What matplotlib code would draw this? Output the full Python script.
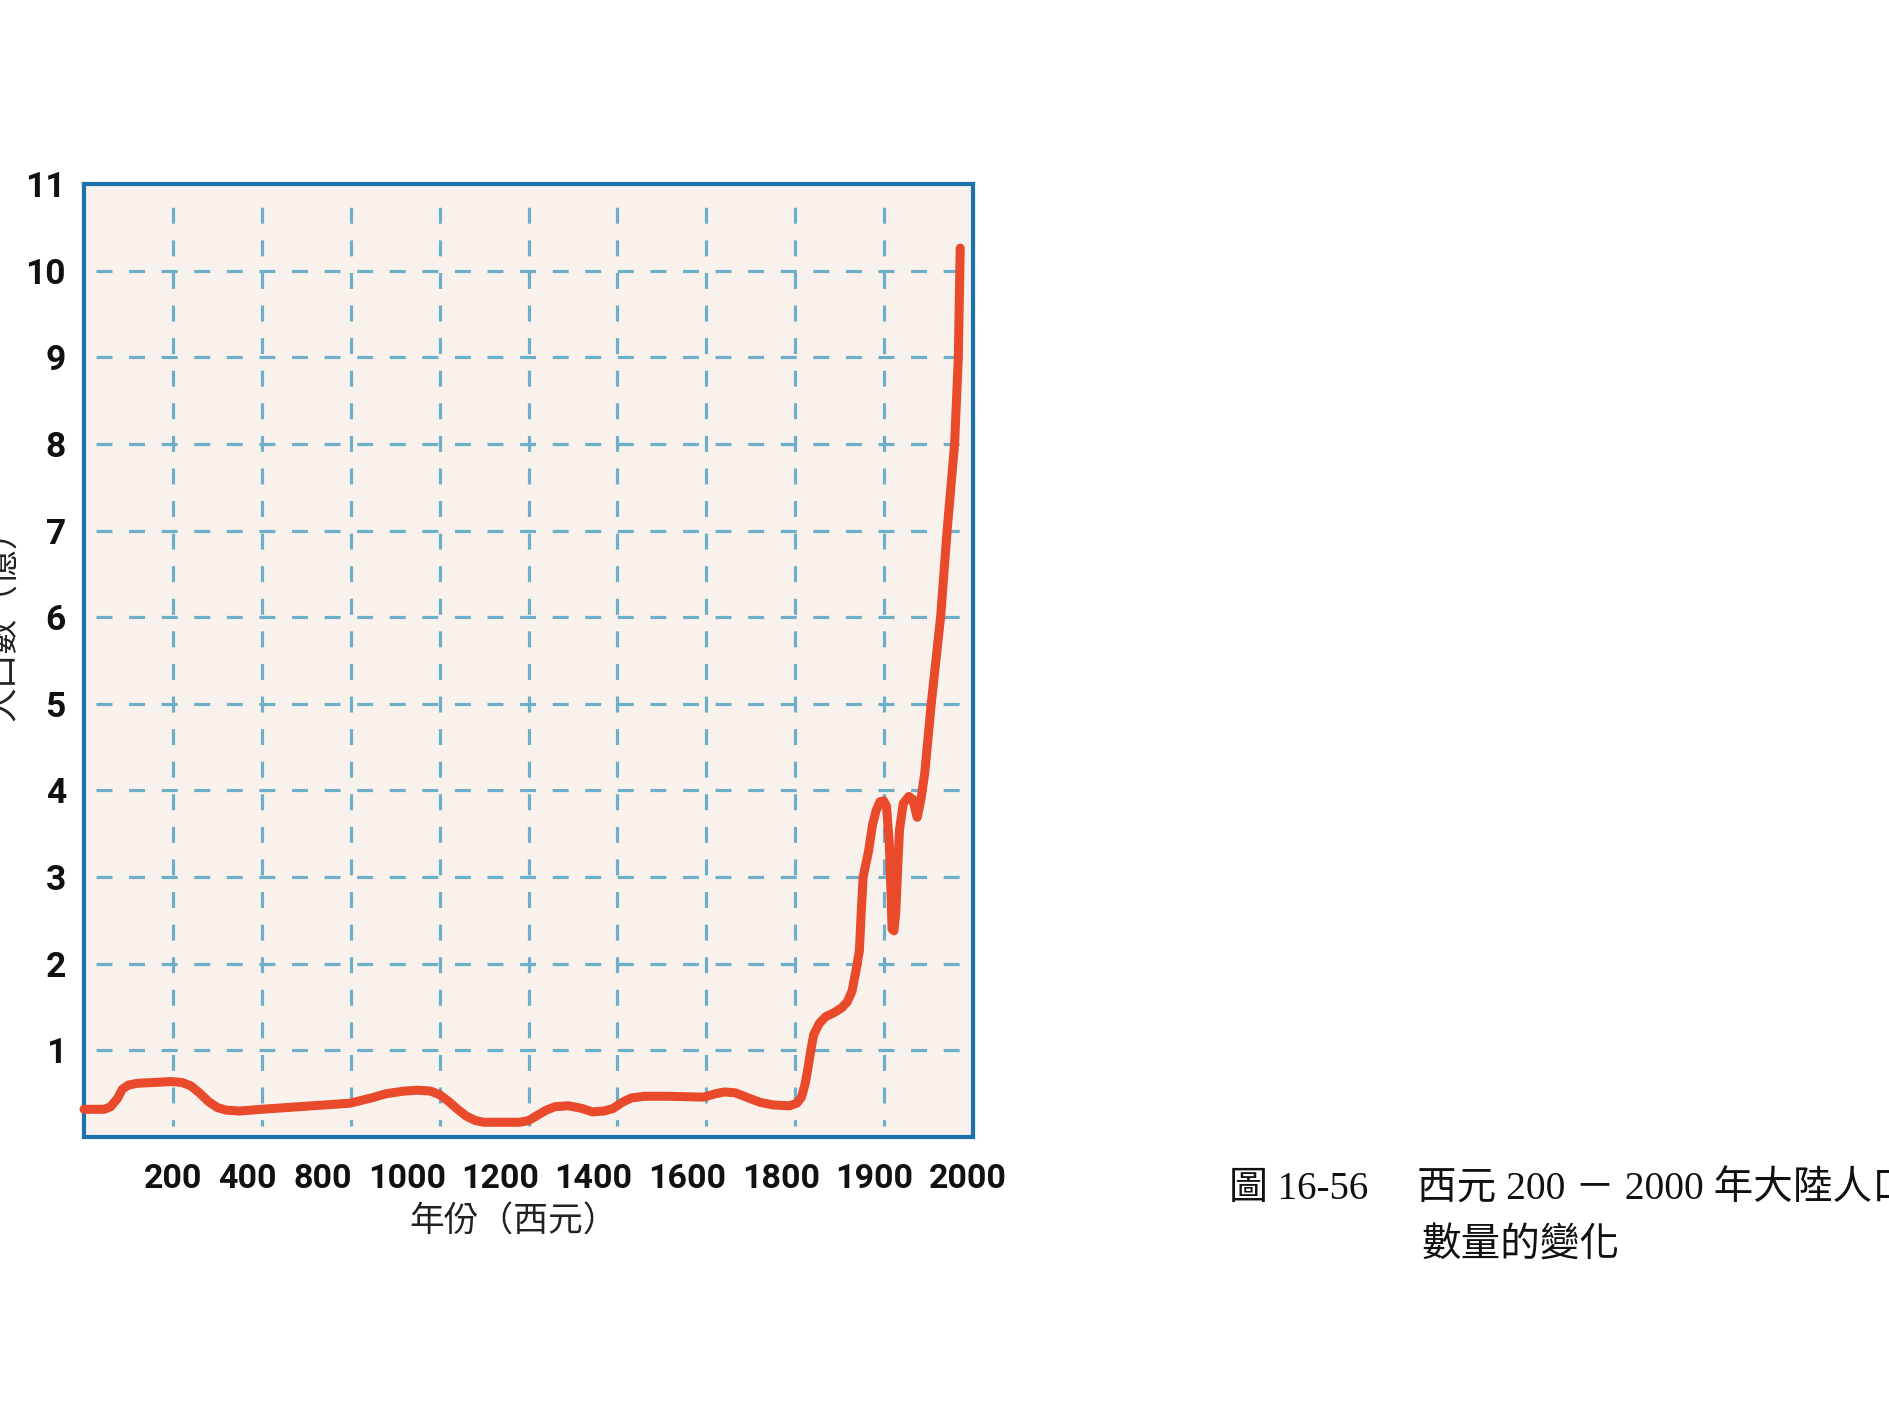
import numpy as np
import matplotlib
matplotlib.use("Agg")
import matplotlib.pyplot as plt
from matplotlib.transforms import blended_transform_factory

plt.rcParams['font.family'] = ['Noto Sans CJK TC', 'DejaVu Sans']

# ---- data ----
years = [0, 46, 60, 76, 86, 100, 120, 160, 196, 224, 248, 271, 295, 319, 343, 379,
         475, 864, 915, 951, 994, 1023, 1051, 1070, 1090, 1109, 1128, 1147, 1166,
         1242, 1261, 1280, 1299, 1318, 1347, 1375, 1398, 1423, 1442, 1461, 1480,
         1509, 1558, 1634, 1660, 1679, 1702, 1726, 1755, 1783, 1809, 1817, 1822,
         1826, 1829, 1832, 1835, 1841, 1848, 1856, 1865, 1871, 1876, 1880, 1884,
         1886, 1888, 1894, 1898, 1902, 1906, 1910, 1913, 1916, 1918, 1919, 1921,
         1923, 1925, 1927, 1931, 1937, 1941, 1946, 1950, 1954, 1961, 1971, 1978,
         1986, 1990, 1992]
population = [0.32, 0.32, 0.35, 0.45, 0.55, 0.60, 0.62, 0.63, 0.64, 0.63, 0.59,
              0.51, 0.41, 0.34, 0.31, 0.30, 0.32, 0.39, 0.45, 0.50, 0.53, 0.54,
              0.53, 0.49, 0.41, 0.32, 0.24, 0.19, 0.17, 0.17, 0.19, 0.25, 0.31,
              0.35, 0.36, 0.33, 0.29, 0.30, 0.33, 0.40, 0.45, 0.47, 0.47, 0.46,
              0.50, 0.52, 0.51, 0.46, 0.40, 0.37, 0.36, 0.39, 0.46, 0.62, 0.80,
              1.00, 1.18, 1.31, 1.39, 1.43, 1.49, 1.56, 1.68, 1.90, 2.15, 2.60,
              3.00, 3.31, 3.60, 3.77, 3.87, 3.88, 3.82, 3.40, 2.80, 2.40, 2.38,
              2.60, 3.10, 3.55, 3.85, 3.93, 3.90, 3.69, 3.90, 4.20, 5.00, 6.00,
              7.00, 8.00, 9.00, 10.26]

x_tick_years = [200, 400, 800, 1000, 1200, 1400, 1600, 1800, 1900, 2000]
x_tick_labels = ['200', '400', '800', '1000', '1200', '1400', '1600', '1800', '1900', '2000']
y_ticks = [1, 2, 3, 4, 5, 6, 7, 8, 9, 10, 11]

# non-linear axis of the original drawing: year -> position on the paper
scale_years = [0, 200, 400, 800, 1000, 1200, 1400, 1600, 1800, 1900, 2000, 2006]
scale_pos = [0, 1.0, 1.84, 2.69, 3.63, 4.68, 5.73, 6.79, 7.84, 8.89, 9.94, 10.0]

def fwd(v):
    return np.interp(v, scale_years, scale_pos)

def inv(p):
    return np.interp(p, scale_pos, scale_years)

# ---- figure ----
W, H = 1889, 1420
fig = plt.figure(figsize=(W / 100, H / 100), dpi=100)
fig.patch.set_facecolor('white')
ax = fig.add_axes([84 / W, 1 - 1137 / H, (973 - 84) / W, (1137 - 184) / H])
ax.set_facecolor('#F9F2EC')
ax.set_xscale('function', functions=(fwd, inv))
ax.set_xlim(0, 2006)
ax.set_ylim(0, 11)

grid_c = '#6DAEC9'
lw_g = 2.3
dash = (0, (5.0, 5.2))
# horizontal grid at each unit
ht = blended_transform_factory(ax.transAxes, ax.transData)
for yv in range(1, 11):
    ax.plot([0.013, 1.0], [yv, yv], transform=ht,
            color=grid_c, lw=lw_g, linestyle=dash, zorder=1, solid_capstyle='butt')
# vertical grid: 9 evenly spaced lines of the drawing
vt = blended_transform_factory(ax.transAxes, ax.transAxes)
for k in range(1, 10):
    ax.plot([k / 10, k / 10], [0.012, 0.985], transform=vt, color=grid_c, lw=lw_g,
            linestyle=(3, dash[1]), zorder=1)

ax.plot(years, population, color='#E84A2B', lw=6.5, solid_capstyle='round',
        solid_joinstyle='round', zorder=3, clip_on=False)

for s in ax.spines.values():
    s.set_color('#1B72AC')
    s.set_linewidth(3.0)

num_font = ['Liberation Sans Narrow', 'Roboto', 'DejaVu Sans']
ax.set_xticks(x_tick_years)
ax.set_xticklabels(x_tick_labels, fontfamily=num_font, fontweight='bold', fontsize=24.5)
ax.xaxis.set_minor_locator(matplotlib.ticker.NullLocator())
ax.set_yticks(y_ticks)
ax.set_yticklabels([str(v) for v in y_ticks], fontfamily=num_font, fontweight='bold', fontsize=25.5)
ax.tick_params(axis='both', length=0, colors='#111111')
ax.tick_params(axis='x', pad=19)
ax.tick_params(axis='y', pad=13)

fig.text(514 / W, 1 - 1222 / H, '年份（西元）', ha='center', va='center', fontsize=25, color='#222222')
fig.text(4 / W, 1 - 617 / H, '人口數（億）', ha='center', va='center', rotation=90,
         fontsize=25, color='#222222')

cap_font = ['Liberation Serif', 'Noto Sans CJK TC']
fig.text(1229 / W, 1 - 1190 / H, '圖 16-56', ha='left', va='center', fontsize=28,
         fontfamily=cap_font, color='#111111')
fig.text(1417 / W, 1 - 1190 / H, '西元 200 － 2000 年大陸人口', ha='left', va='center', fontsize=28.5,
         fontfamily=cap_font, color='#111111')
fig.text(1422 / W, 1 - 1247 / H, '數量的變化', ha='left', va='center', fontsize=28.5,
         fontfamily=cap_font, color='#111111')

fig.savefig('out.png', dpi=100, facecolor='white')
